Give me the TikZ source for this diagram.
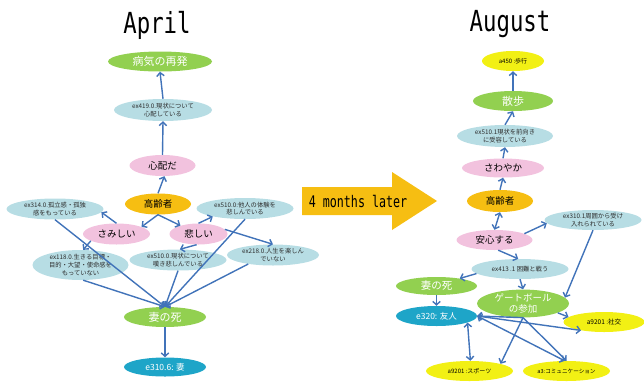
\documentclass[tikz,border=0pt]{standalone}
\usepackage{graphicx}
\usepackage{fontspec}
\setmainfont{Noto Sans CJK JP}
\newfontfamily\headfont{DejaVu Sans Mono}
\usetikzlibrary{shapes.geometric,arrows.meta}

\definecolor{leaf}{RGB}{146,208,80}
\definecolor{mist}{RGB}{183,221,228}
\definecolor{blush}{RGB}{242,194,222}
\definecolor{amber}{RGB}{246,190,18}
\definecolor{sea}{RGB}{30,165,200}
\definecolor{lemon}{RGB}{242,240,20}
\definecolor{wire}{RGB}{65,115,185}
\definecolor{inkgrey}{RGB}{45,45,45}

\begin{document}
\begin{tikzpicture}[x=1pt,y=-1pt,
  blob/.style={ellipse, inner sep=0pt, align=center},
  note/.style={blob, fill=mist, text=inkgrey, font=\fontsize{6.3}{7.6}\selectfont,
    minimum width=97, minimum height=21},
  mood/.style={blob, fill=blush, text=black, font=\fontsize{9.5}{11}\selectfont,
    minimum width=66, minimum height=21},
  person/.style={blob, fill=amber, text=black, font=\fontsize{9.5}{11}\selectfont,
    minimum width=66, minimum height=21},
  event/.style={blob, fill=leaf, text=white, font=\fontsize{11}{12}\selectfont,
    minimum width=82, minimum height=20},
  bond/.style={blob, fill=sea, text=white, font=\fontsize{8.5}{10}\selectfont,
    minimum width=82, minimum height=20},
  act/.style={blob, fill=lemon, text=black, font=\fontsize{6}{7}\selectfont,
    minimum width=84, minimum height=20},
  head/.style={inner sep=0pt, font=\headfont\fontsize{29}{30}\selectfont},
  tipV/.tip={Straight Barb[length=3.5pt,width=7.5pt]},
  link/.style={draw=wire, line width=1.4pt, -tipV},
  both/.style={draw=wire, line width=1.4pt, tipV-tipV},
]
\useasboundingbox (0,0) rectangle (644,381);

% ---------- April ----------
\node[head] (titleL) at (157,25) {\scalebox{0.77}[1]{April}};

\node[event, minimum width=104] (relapse) at (160,61.5) {病気の再発};
\node[note, minimum width=98, minimum height=22] (ex419) at (163,110) {ex419.0.現状について\\心配している};
\node[mood] (worry) at (162.5,165.5) {心配だ};
\node[person] (elderL) at (158,204) {高齢者};
\node[note] (ex314) at (55,209) {ex314.0.孤立感・孤独\\感をもっている};
\node[note] (ex510a) at (245,208.5) {ex510.0:他人の体験を\\悲しんでいる};
\node[mood, minimum width=67] (lonely) at (116.5,234) {さみしい};
\node[mood, minimum width=58] (sad) at (198.5,234) {悲しい};
\node[note, minimum width=96, minimum height=30] (ex118) at (80.5,265) {ex118.0.生きる目標・\\目的・大望・使命感を\\もっていない};
\node[note] (ex510b) at (178,260) {ex510.0.現状について\\嘆き悲しんでいる};
\node[note, minimum width=92] (ex218) at (273,255) {ex218.0.人生を楽しん\\でいない};
\node[event] (wifeL) at (165,317) {妻の死};
\node[bond, minimum height=19] (spouse) at (165,367) {e310.6: 妻};

\draw[link] (ex419.north) -- (relapse.south);
\draw[link] (worry.north) -- (ex419.south);
\draw[link] (elderL.north) -- (worry.-80);
\draw[link] (elderL.south) -- (lonely.16);
\draw[link] (elderL.south) -- (sad.155);
\draw[link] (lonely.north) -- (ex314.-4);
\draw[link] (lonely.-165) -- (ex118.80);
\draw[link] (sad.north) -- (ex510a.-166);
\draw[link] (sad.-100) -- (ex510b.80);
\draw[link] (sad.10) -- (ex218.north);
\draw[link] (ex314.south) -- (wifeL.north);
\draw[link] (ex118.-80) -- (wifeL.north);
\draw[link] (ex510b.south) -- (wifeL.north);
\draw[link] (ex510a.south) -- (wifeL.north);
\draw[link] (ex218.-160) -- (wifeL.north);
\draw[link] (wifeL.south) -- (spouse.north);

% ---------- transition ----------
\fill[amber] (302,187) -- (392,187) -- (392,172) -- (437,201)
  -- (392,230) -- (392,215) -- (302,215) -- cycle;
\node[inner sep=0pt, font=\headfont\fontsize{16}{16}\selectfont] (later) at (358,201)
  {\scalebox{0.73}[1]{4 months later}};

% ---------- August ----------
\node[head] (titleR) at (510,24) {\scalebox{0.77}[1]{August}};

\node[act, minimum width=62] (walking) at (513,61) {a450 :歩行};
\node[event, minimum width=80] (stroll) at (513,101) {散歩};
\node[note, minimum width=96, minimum height=22] (ex510c) at (505,136) {ex510.1現状を前向き\\に受容している};
\node[mood, minimum width=82, minimum height=19] (fresh) at (503,168) {さわやか};
\node[person, minimum height=22] (elderR) at (500,201) {高齢者};
\node[note, minimum width=97, minimum height=20] (ex310) at (593,220) {ex310.1周囲から受け\\入れられている};
\node[mood, minimum width=76, minimum height=20] (relief) at (494.5,240) {安心する};
\node[note, minimum width=97, minimum height=20] (ex413) at (520,269) {ex413 .1 困難と戦う};
\node[event, minimum width=81, minimum height=18, font=\fontsize{10.5}{12}\selectfont] (wifeR) at (436.5,286) {妻の死};
\node[event, minimum width=92, minimum height=24, font=\fontsize{9.5}{11}\selectfont] (gate) at (523,303.5) {ゲートボール\\の参加};
\node[bond, minimum width=81] (friend) at (436.5,316) {e320: 友人};
\node[act, minimum width=81, font=\fontsize{6.5}{7.5}\selectfont] (social) at (604,322) {a9201 :社交};
\node[act, minimum width=87] (sports) at (469.5,371) {a9201 :スポーツ};
\node[act, minimum width=87, font=\fontsize{5.6}{7}\selectfont] (comm) at (566.5,371) {a3:コミュニケーション};

\draw[link] (stroll.north) -- (walking.south);
\draw[link] (ex510c.north) -- (stroll.south);
\draw[link] (fresh.north) -- (ex510c.south);
\draw[link] (elderR.north) -- (fresh.south);
\draw[both] (elderR.south) -- (relief.north);
\draw[link] (relief.12) -- (ex310.-176);
\draw[link] (relief.-70) -- (ex413.100);
\draw[link] (ex413.-174) -- (wifeR.18);
\draw[link] (ex413.south) -- (gate.north);
\draw[link] (ex310.south) -- (gate.8);
\draw[link] (wifeR.south) -- (friend.north);
\draw[link] (gate.-15) -- (social.172);
\draw[link] (gate.south) -- (friend.east);
\draw[both] (friend.east) -- (social.-160);
\draw[both] (friend.-12) -- (sports.85);
\draw[both] (friend.east) -- (comm.100);
\draw[link] (gate.south) -- (sports.13);
\draw[link] (gate.south) -- (comm.north);
\end{tikzpicture}
\end{document}
